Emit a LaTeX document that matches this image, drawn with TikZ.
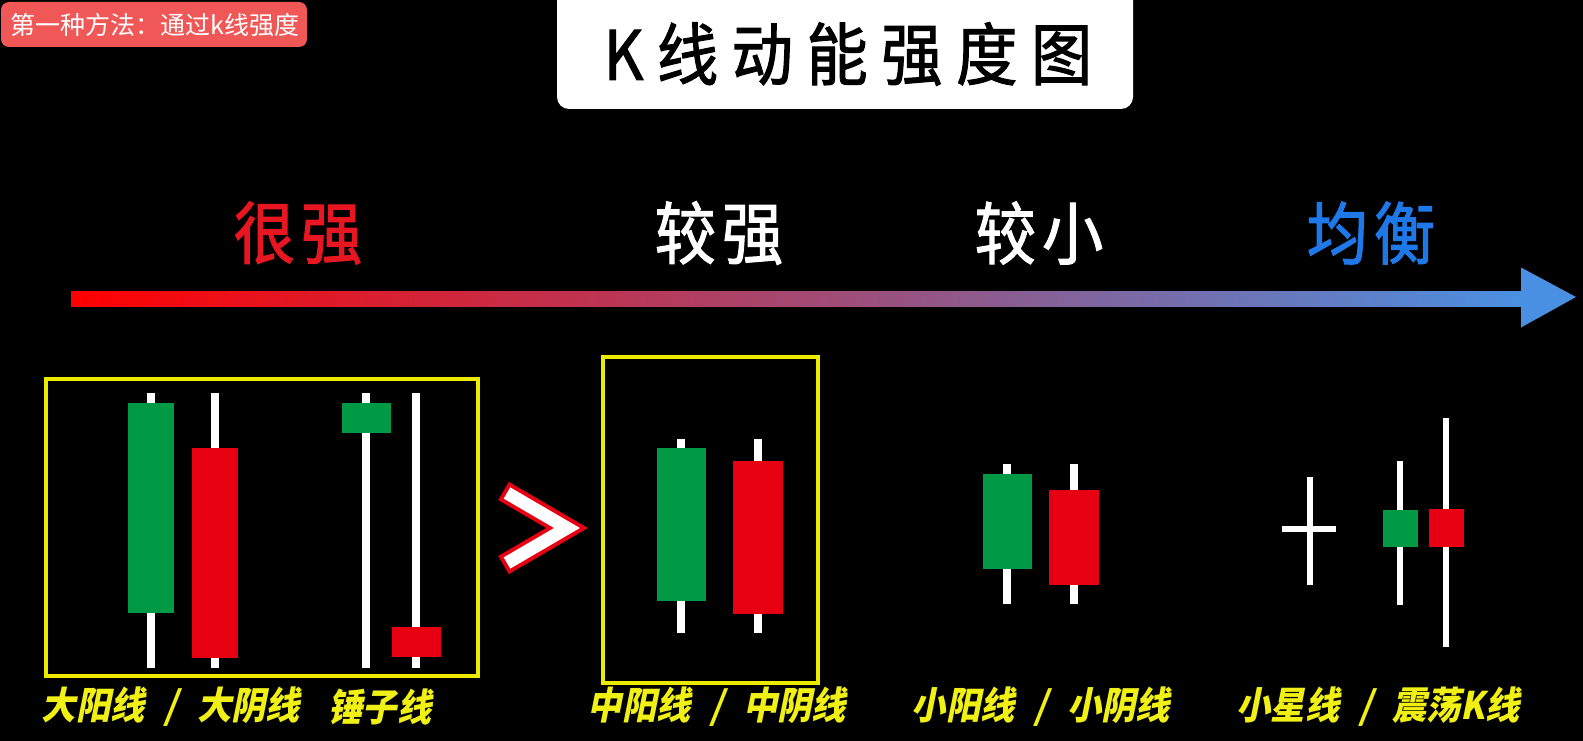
\documentclass[tikz,border=0pt]{standalone}
\usepackage{fontspec}
\usetikzlibrary{calc,positioning}
\newfontfamily\cjkplain{Noto Sans CJK SC}
\newfontfamily\cjklevel{Noto Sans CJK SC}[FakeStretch=0.9,LetterSpace=9,FakeBold=1.6]
\newfontfamily\cjktitle{Noto Sans CJK SC}[FakeStretch=0.9,LetterSpace=20,FakeBold=1.6]
\newfontfamily\cjktag{Noto Sans CJK SC}[FakeStretch=0.9,FakeSlant=0.2]
\newcommand{\slashgap}{\hspace{20pt}/\hspace{20pt}}
\definecolor{bull}{RGB}{0,154,68}
\definecolor{bear}{RGB}{230,0,18}
\definecolor{frameyellow}{RGB}{235,235,0}
\definecolor{tagyellow}{RGB}{240,240,20}
\definecolor{badgered}{RGB}{240,88,88}
\definecolor{strongred}{RGB}{232,22,32}
\definecolor{calmblue}{RGB}{30,120,232}
\definecolor{arrowblue}{RGB}{74,144,226}
\tikzset{
  wick/.style={draw=white, line width=8pt},
  thinwick/.style={draw=white, line width=6pt},
  groupframe/.style={draw=frameyellow, line width=4pt},
  level/.style={font=\cjklevel\fontsize{68}{68}\selectfont, inner sep=0pt},
  tag/.style={font=\cjktag\bfseries\fontsize{38}{38}\selectfont, text=tagyellow, inner sep=0pt}
}

\begin{document}
\begin{tikzpicture}[x=1pt,y=-1pt]
  \fill[black] (0,0) rectangle (1583,741);
  \useasboundingbox (0,0) rectangle (1583,741);

  % badge and title
  \fill[badgered, rounded corners=8pt] (1,2) rectangle (307,47);
  \node[text=white, font=\cjkplain\fontsize{25}{25}\selectfont, inner sep=0pt] (method) at (155,25) {第一种方法：通过k线强度};
  \fill[white, rounded corners=12pt] (557,-15) rectangle (1133,109);
  \node[font=\cjktitle\fontsize{68}{68}\selectfont, inner sep=0pt] (title) at (848,54) {K线动能强度图};

  % strength scale
  \node[level, text=strongred] (verystrong) at (298,233) {很强};
  \node[level, text=white] (fairstrong) at (719,233) {较强};
  \node[level, text=white] (fairsmall) at (1039,233) {较小};
  \node[level, text=calmblue] (balanced) at (1371,233) {均衡};
  \coordinate (start) at (71,298.5);
  \coordinate (headbase) at (1521,298.5);
  \coordinate (tip) at (1576,297);
  \shade[left color=red, right color=arrowblue] ($(start)+(0,-7.5)$) rectangle ($(headbase)+(1,7.5)$);
  \fill[arrowblue] ($(headbase)+(0,-31)$) -- (tip) -- ($(headbase)+(0,29)$) -- cycle;

  % frames
  \draw[groupframe] (46,379) rectangle (478,676);
  \draw[groupframe] (603,357) rectangle (818,683);

  % candles: x / high / low / body top / body bottom / half width / colour
  \foreach \x/\hi/\lo/\top/\bot/\hw/\kind in {
      151/393/668/403/613/23/bull, 215/393/668/448/658/23/bear,
      366/393/668/403/433/24.5/bull, 416/393/668/627/657/24.5/bear,
      681/439/633/448/601/24.5/bull, 758/439/633/461/614/25/bear,
      1007/464/604/474/569/24.5/bull, 1074/464/604/490/585/25/bear}{
    \draw[wick] (\x,\hi) -- (\x,\lo);
    \fill[\kind] (\x-\hw,\top) rectangle (\x+\hw,\bot);
  }
  \foreach \x/\hi/\lo/\top/\bot/\kind in {1400/461/605/510/547/bull, 1446/418/647/509/547/bear}{
    \draw[thinwick] (\x,\hi) -- (\x,\lo);
    \fill[\kind] (\x-17.5,\top) rectangle (\x+17.5,\bot);
  }
  \draw[thinwick] (1310,477) -- (1310,585);
  \draw[thinwick] (1282,529) -- (1336,529);

  % greater-than sign
  \coordinate (gtA) at (507,493);
  \coordinate (gtB) at (567,528);
  \coordinate (gtC) at (507,563);
  \draw[bear, line width=21pt, shorten <=-4pt, shorten >=-4pt] (gtA) -- (gtB) -- (gtC);
  \draw[white, line width=13pt] (gtA) -- (gtB) -- (gtC);

  % names
  \node[tag] (bigpair) at (171,707) {大阳线\slashgap 大阴线};
  \node[tag] (hammer) at (380,707) {锤子线};
  \node[tag] (midpair) at (717,707) {中阳线\slashgap 中阴线};
  \node[tag] (smallpair) at (1041,707) {小阳线\slashgap 小阴线};
  \node[tag] (starpair) at (1378,707) {小星线\slashgap 震荡K线};
\end{tikzpicture}
\end{document}
